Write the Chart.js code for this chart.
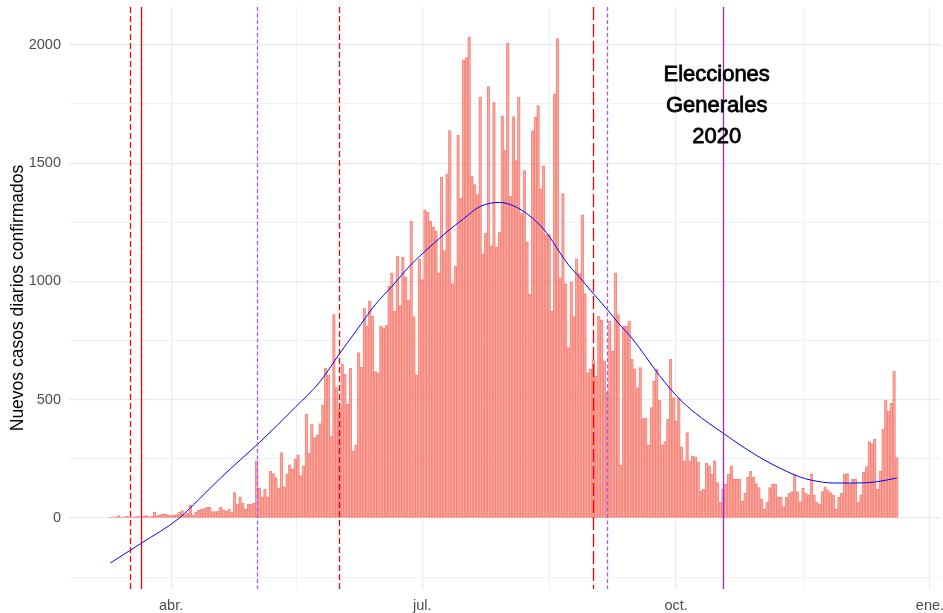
<!DOCTYPE html>
<html lang="es">
<head>
<meta charset="utf-8">
<script src="https://cdn.jsdelivr.net/npm/chart.js@4.4.1/dist/chart.umd.min.js"></script>
<style>
  html, body { margin: 0; padding: 0; background: #fff; }
  #casosChart { display: block; }
</style>
</head>
<body>
<canvas id="casosChart" width="943" height="613"></canvas>
<script>
// casos diarios, uno por dia desde fechaInicio
const fechaInicio = '2020-03-10';
const casosDiarios = [
  3, 5, 2, 10, 3, 2, 8, 5, 3, 6, 8, 5, 8, 10, 6, 8, 24, 10, 15, 18, 18, 12,
  10, 12, 15, 25, 31, 15, 20, 55, 12, 25, 34, 38, 40, 45, 45, 27, 27, 30, 45, 35, 28, 38, 25, 108, 59,
  90, 63, 38, 59, 59, 63, 242, 127, 90, 122, 90, 197, 188, 171, 125, 277, 132, 186, 225, 207,
  249, 267, 179, 221, 439, 273, 397, 340, 352, 399, 478, 633, 605, 347, 860, 551, 463, 650,
  607, 481, 633, 284, 309, 699, 638, 886, 811, 917, 853, 619, 614,
  811, 804, 815, 980, 1036, 874, 1106, 898, 1102, 1019, 920, 1254, 851, 605, 1095, 1008,
  1303, 1292, 1254, 1229, 1212, 1036, 1440, 1130, 1455, 1638, 991, 1064, 1618, 1351, 1936,
  1946, 2034, 1444, 1409, 1367, 1779, 1116, 1205, 1824, 1152, 1756, 1145, 1209, 1700, 1554,
  2006, 1360, 1697,
  1511, 1779, 1287, 1469, 1166, 945, 1637, 1694, 1743, 1391, 1489, 1198, 1198, 875, 1793,
  2027, 1015, 1371, 991, 720, 997, 851, 1095, 1033, 1282, 949, 614, 631, 668, 600, 853, 837,
  664, 530, 832, 706, 1036, 860, 224, 811, 811, 832, 671, 631, 551, 636, 420,
  422, 309, 467, 579, 628, 498, 309, 323, 418, 671, 509, 411, 506, 301, 242, 361, 242, 263,
  259, 238, 115, 122, 231, 221, 186, 242, 150, 66, 122, 143, 186, 221, 165, 165, 165, 73,
  104, 172, 197, 172, 146, 129, 80, 38, 66, 129, 143, 143, 90,
  87, 48, 87, 104, 112, 183, 112, 70, 127, 104, 98, 186, 98, 66, 59, 112, 132, 118, 108, 98,
  38, 87, 104, 186, 188, 146, 165, 165, 66, 98, 193, 217, 323, 315, 333, 122, 197, 375, 499,
  453, 485, 621, 256
];

// curva suavizada
const tendenciaFechas = [
  '2020-03-10', '2020-03-21', '2020-04-04', '2020-04-11', '2020-04-19', '2020-04-26',
  '2020-05-03', '2020-05-16', '2020-05-25', '2020-06-01', '2020-06-07', '2020-06-14',
  '2020-06-20', '2020-06-27', '2020-07-02', '2020-07-10', '2020-07-16', '2020-07-22',
  '2020-07-29', '2020-08-03', '2020-08-09', '2020-08-15', '2020-08-20', '2020-08-23',
  '2020-08-27', '2020-08-31', '2020-09-06', '2020-09-10', '2020-09-15', '2020-09-20',
  '2020-09-25', '2020-10-02', '2020-10-08', '2020-10-18', '2020-10-26', '2020-11-02',
  '2020-11-09', '2020-11-15', '2020-11-19', '2020-11-27', '2020-12-05', '2020-12-12',
  '2020-12-20'
];
const tendenciaValores = [
  -190, -108, 0, 78, 170, 245,
  319, 468, 577, 694, 790, 902,
  979, 1072, 1127, 1210, 1265, 1317,
  1334, 1320, 1277, 1207, 1120, 1070,
  1018, 962, 882, 825, 760, 682,
  602, 506, 443, 359, 295, 245,
  203, 173, 160, 148, 148, 152,
  169
];

const mesesFechas = ['2020-04-01', '2020-07-01', '2020-10-01', '2021-01-01'];
const mesesEtiquetas = ['abr.', 'jul.', 'oct.', 'ene.'];
const ticksY = [-250, 0, 250, 500, 750, 1000, 1250, 1500, 1750, 2000];

const eventosFechas = ['2020-03-17', '2020-03-21', '2020-05-02', '2020-06-01', '2020-09-01', '2020-09-06', '2020-10-18'];
const eventosTipos = ['rojoGuiones', 'rojo', 'moradoGuiones', 'rojoGuiones', 'rojoLargo', 'moradoGuiones', 'morado'];

const anotacionLineas = ['Elecciones', 'Generales', '2020'];

const estilosLinea = {
  rojo: { color: '#FF0000', dash: [] },
  rojoGuiones: { color: '#FF0000', dash: [6, 3] },
  rojoLargo: { color: '#FF0000', dash: [13, 4] },
  morado: { color: '#A020F0', dash: [] },
  moradoGuiones: { color: '#A855F7', dash: [4, 2.5] }
};

function dia(s) {
  const [a, m, d] = s.split('-').map(Number);
  return (Date.UTC(a, m - 1, d) - Date.UTC(2020, 3, 1)) / 864e5;
}

const d0 = dia(fechaInicio);
const mayoresX = mesesFechas.map(dia);
const menoresX = mayoresX.slice(1).map((v, i) => (v + mayoresX[i]) / 2);
const esMayorX = v => mayoresX.includes(v);

const lineasEventos = {
  id: 'lineasEventos',
  afterDatasetsDraw(chart) {
    const { ctx, chartArea, scales: { x, y } } = chart;
    ctx.save();
    eventosFechas.forEach((f, i) => {
      const st = estilosLinea[eventosTipos[i]];
      const px = Math.round(x.getPixelForValue(dia(f))) + 0.5;
      ctx.beginPath();
      ctx.setLineDash(st.dash);
      ctx.strokeStyle = st.color;
      ctx.lineWidth = 1.3;
      ctx.moveTo(px, chartArea.top);
      ctx.lineTo(px, chartArea.bottom);
      ctx.stroke();
    });
    ctx.setLineDash([]);
    ctx.font = '22px "Liberation Sans", Arial, sans-serif';
    ctx.textAlign = 'center';
    ctx.textBaseline = 'middle';
    ctx.fillStyle = '#000';
    ctx.strokeStyle = '#000';
    ctx.lineWidth = 0.8;
    const tx = x.getPixelForValue(dia('2020-10-15') + 0.7);
    [1873, 1742, 1612].forEach((v, i) => {
      const ty = y.getPixelForValue(v);
      ctx.fillText(anotacionLineas[i], tx, ty);
      ctx.strokeText(anotacionLineas[i], tx, ty);
    });
    ctx.restore();
  }
};

const ctx = document.getElementById('casosChart').getContext('2d');
new Chart(ctx, {
  type: 'bar',
  data: {
    datasets: [
      {
        type: 'line',
        data: tendenciaFechas.map((f, i) => ({ x: dia(f), y: tendenciaValores[i] })),
        borderColor: '#0000FF',
        borderWidth: 1,
        pointRadius: 0,
        cubicInterpolationMode: 'monotone',
        fill: false
      },
      {
        type: 'bar',
        data: casosDiarios.map((v, i) => ({ x: d0 + i, y: v })),
        backgroundColor: 'rgba(250,128,114,0.6)',
        borderColor: 'rgba(240,110,100,0.75)',
        borderWidth: 0.6,
        borderSkipped: false,
        barPercentage: 1,
        categoryPercentage: 1
      }
    ]
  },
  options: {
    responsive: false,
    animation: false,
    devicePixelRatio: 1,
    layout: { padding: { top: 7, right: 2, bottom: 0, left: 0 } },
    plugins: { legend: { display: false }, tooltip: { enabled: false } },
    scales: {
      x: {
        type: 'linear',
        offset: false,
        min: dia('2020-02-24'),
        max: dia('2021-01-05'),
        afterBuildTicks: s => { s.ticks = mayoresX.concat(menoresX).sort((a, b) => a - b).map(v => ({ value: v })); },
        afterFit: s => { s.height = 24; s.paddingLeft = 0; s.paddingRight = 0; },
        border: { display: false },
        grid: {
          offset: false,
          drawTicks: false,
          color: '#EBEBEB',
          lineWidth: c => (c.tick && esMayorX(c.tick.value) ? 1.2 : 0.7)
        },
        ticks: {
          autoSkip: false,
          maxRotation: 0,
          padding: 8,
          color: '#4D4D4D',
          font: { family: '"Liberation Sans", Arial, sans-serif', size: 14.5 },
          callback: v => { const k = mayoresX.indexOf(v); return k >= 0 ? mesesEtiquetas[k] : ''; }
        }
      },
      y: {
        min: -300,
        max: 2160,
        afterBuildTicks: s => { s.ticks = ticksY.map(v => ({ value: v })); },
        afterFit: s => { s.width = 69; s.paddingTop = 0; s.paddingBottom = 0; },
        border: { display: false },
        grid: {
          drawTicks: false,
          color: '#EBEBEB',
          lineWidth: c => (c.tick && c.tick.value % 500 === 0 ? 1.2 : 0.7)
        },
        ticks: {
          padding: 8,
          color: '#4D4D4D',
          font: { family: '"Liberation Sans", Arial, sans-serif', size: 14.5 },
          callback: v => (v % 500 === 0 ? String(v) : '')
        },
        title: {
          display: true,
          text: 'Nuevos casos diarios confirmados',
          color: '#000',
          padding: { top: 8, bottom: 0 },
          font: { family: '"Liberation Sans", Arial, sans-serif', size: 17.5 }
        }
      }
    }
  },
  plugins: [lineasEventos]
});
</script>
</body>
</html>
